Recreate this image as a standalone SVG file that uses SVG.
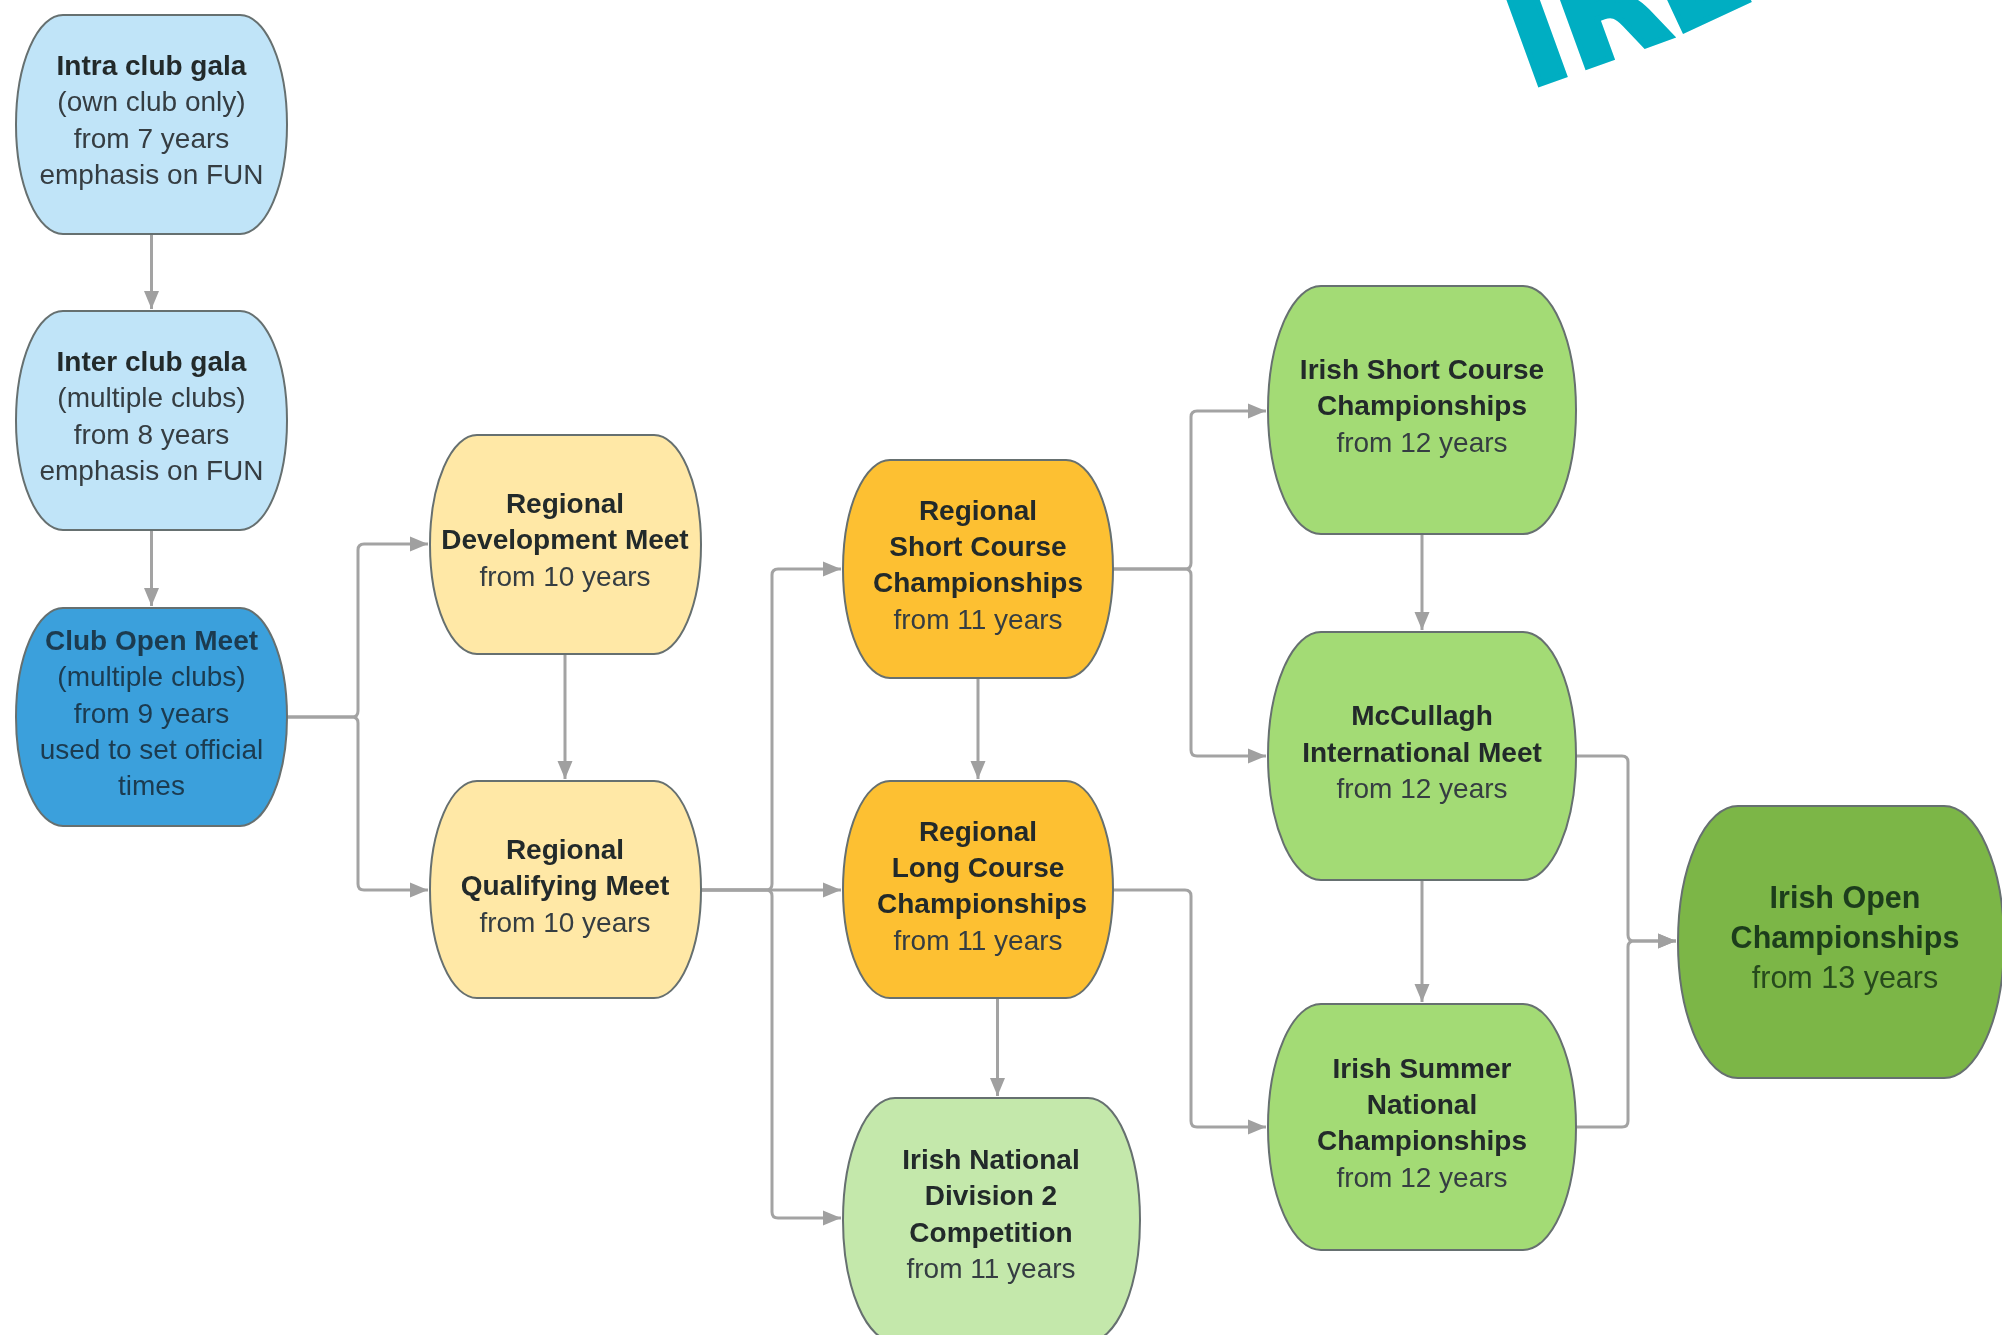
<svg xmlns="http://www.w3.org/2000/svg" width="2002" height="1335" viewBox="0 0 2002 1335">
<defs>
<marker id="arrow" markerUnits="userSpaceOnUse" markerWidth="20" markerHeight="16" refX="18" refY="8" orient="auto"><path d="M0,0.5 L18,8 L0,15.5 Z" fill="#a0a0a0"/></marker>
<filter id="soft" x="-2%" y="-2%" width="104%" height="104%"><feGaussianBlur stdDeviation="0.75"/></filter>
</defs>
<style>
text{font-family:"Liberation Sans",Arial,sans-serif;font-size:28px;text-anchor:middle;fill:#353d42}
.b{font-weight:700;fill:#24292b}
.n{stroke:#666f6f;stroke-width:2}
.blue{fill:#c0e4f8}
.deep{fill:#3aa0dc}
.deep text{fill:#1c3a50}
.yellow{fill:#ffe8a6}
.orange{fill:#fdc030}
.pale{fill:#c4e8ab}
.mid{fill:#a3db74}
.dark{fill:#7bb647}
#connectors path{fill:none;stroke:#a3a3a3;stroke-width:3;stroke-linejoin:round}
.big text{font-size:30.5px}
text.logo{font-family:"DejaVu Sans Condensed","DejaVu Sans",sans-serif;font-stretch:condensed;font-size:150px;font-weight:700;fill:#03aec2;stroke:#03aec2;stroke-width:6;text-anchor:start}
</style>
<rect width="2002" height="1335" fill="#ffffff"/>
<g filter="url(#soft)">
<text class="logo" transform="translate(1528.5,88) rotate(-20)" rotate="0 0 -5">IRE</text>
<g id="connectors">
<path marker-end="url(#arrow)" d="M151.5,234V309"/>
<path marker-end="url(#arrow)" d="M151.5,530V606"/>
<path marker-end="url(#arrow)" d="M288,717H352Q358,717 358,711V550Q358,544 364,544H428"/>
<path marker-end="url(#arrow)" d="M288,717H352Q358,717 358,723V884Q358,890 364,890H428"/>
<path marker-end="url(#arrow)" d="M565,654V779"/>
<path marker-end="url(#arrow)" d="M701,890H766Q772,890 772,884V575Q772,569 778,569H841"/>
<path marker-end="url(#arrow)" d="M701,890H841"/>
<path marker-end="url(#arrow)" d="M701,890H766Q772,890 772,896V1212Q772,1218 778,1218H841"/>
<path marker-end="url(#arrow)" d="M978,678V779"/>
<path marker-end="url(#arrow)" d="M997.5,998V1096"/>
<path marker-end="url(#arrow)" d="M1113,569H1185Q1191,569 1191,563V417Q1191,411 1197,411H1266"/>
<path marker-end="url(#arrow)" d="M1113,569H1185Q1191,569 1191,575V750Q1191,756 1197,756H1266"/>
<path marker-end="url(#arrow)" d="M1113,890H1185Q1191,890 1191,896V1121Q1191,1127 1197,1127H1266"/>
<path marker-end="url(#arrow)" d="M1422,534V630"/>
<path marker-end="url(#arrow)" d="M1422,880V1002"/>
<path marker-end="url(#arrow)" d="M1576,756H1622Q1628,756 1628,762V935Q1628,941 1634,941H1676"/>
<path marker-end="url(#arrow)" d="M1576,1127H1622Q1628,1127 1628,1121V947Q1628,941 1634,941H1676"/>
</g>
<g id="intra-club"><rect class="n blue" x="16" y="15" width="271" height="219" rx="47" ry="109.5"/>
<text class="b" x="151.5" y="75">Intra club gala</text><text x="151.5" y="111">(own club only)</text><text x="151.5" y="148">from 7 years</text><text x="151.5" y="184">emphasis on FUN</text></g>
<g id="inter-club"><rect class="n blue" x="16" y="311" width="271" height="219" rx="47" ry="109.5"/>
<text class="b" x="151.5" y="371">Inter club gala</text><text x="151.5" y="407">(multiple clubs)</text><text x="151.5" y="444">from 8 years</text><text x="151.5" y="480">emphasis on FUN</text></g>
<g id="club-open" class="deep"><rect class="n deep" x="16" y="608" width="271" height="218" rx="47" ry="109"/>
<text class="b" x="151.5" y="650">Club Open Meet</text><text x="151.5" y="686">(multiple clubs)</text><text x="151.5" y="723">from 9 years</text><text x="151.5" y="759">used to set official</text><text x="151.5" y="795">times</text></g>
<g id="regional-development"><rect class="n yellow" x="430" y="435" width="271" height="219" rx="47" ry="109.5"/>
<text class="b" x="565" y="513">Regional</text><text class="b" x="565" y="549">Development Meet</text><text x="565" y="586">from 10 years</text></g>
<g id="regional-qualifying"><rect class="n yellow" x="430" y="781" width="271" height="217" rx="47" ry="108.5"/>
<text class="b" x="565" y="859">Regional</text><text class="b" x="565" y="895">Qualifying Meet</text><text x="565" y="932">from 10 years</text></g>
<g id="regional-short"><rect class="n orange" x="843" y="460" width="270" height="218" rx="47" ry="109"/>
<text class="b" x="978" y="520">Regional</text><text class="b" x="978" y="556">Short Course</text><text class="b" x="978" y="592">Championships</text><text x="978" y="629">from 11 years</text></g>
<g id="regional-long"><rect class="n orange" x="843" y="781" width="270" height="217" rx="47" ry="108.5"/>
<text class="b" x="978" y="841">Regional</text><text class="b" x="978" y="877">Long Course</text><text class="b" x="982" y="913">Championships</text><text x="978" y="950">from 11 years</text></g>
<g id="irish-national-division-2"><rect class="n pale" x="843" y="1098" width="297" height="244" rx="52" ry="122"/>
<text class="b" x="991" y="1169">Irish National</text><text class="b" x="991" y="1205">Division 2</text><text class="b" x="991" y="1242">Competition</text><text x="991" y="1278">from 11 years</text></g>
<g id="irish-short-course"><rect class="n mid" x="1268" y="286" width="308" height="248" rx="53" ry="124"/>
<text class="b" x="1422" y="379">Irish Short Course</text><text class="b" x="1422" y="415">Championships</text><text x="1422" y="452">from 12 years</text></g>
<g id="mccullagh"><rect class="n mid" x="1268" y="632" width="308" height="248" rx="53" ry="124"/>
<text class="b" x="1422" y="725">McCullagh</text><text class="b" x="1422" y="762">International Meet</text><text x="1422" y="798">from 12 years</text></g>
<g id="irish-summer"><rect class="n mid" x="1268" y="1004" width="308" height="246" rx="53" ry="123"/>
<text class="b" x="1422" y="1078">Irish Summer</text><text class="b" x="1422" y="1114">National</text><text class="b" x="1422" y="1150">Championships</text><text x="1422" y="1187">from 12 years</text></g>
<g id="irish-open" class="big"><rect class="n dark" x="1678" y="806" width="326" height="272" rx="60" ry="136"/>
<text class="b" x="1845" y="908" style="fill:#1f3d1c">Irish Open</text><text class="b" x="1845" y="948" style="fill:#1f3d1c">Championships</text><text x="1845" y="988" style="fill:#27491f">from 13 years</text></g>
</g>
</svg>
